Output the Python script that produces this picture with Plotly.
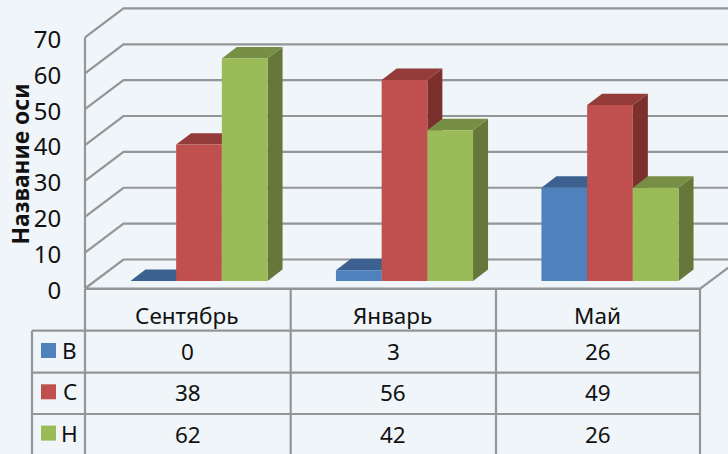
import plotly.graph_objects as go

categories = ["Сентябрь", "Январь", "Май"]
series_names = ["В", "С", "Н"]
values_b = [0, 3, 26]
values_c = [38, 56, 49]
values_n = [62, 42, 26]
y_ticks = [0, 10, 20, 30, 40, 50, 60, 70]
axis_title = "Название оси"

W, H = 728, 454
BG = "#EFF5F8"
GRID = "#939597"
FONT = "Noto Sans"
TEXT = "#111111"
front = ["#4F81BD", "#C0504D", "#9BBB59"]
top = ["#3C6190", "#933C3A", "#778F44"]
side = ["#335277", "#7C302E", "#65783A"]

# scales (pixels of the picture per data unit)
PX_CAT = 205.5
PX_VAL_WALL = 3.587
PX_VAL_BAR = 3.59
X0 = 199.0            # pixel of the first category centre
WALL_Y0, BAR_Y0 = 288.5, 281.0

def xc(px):
    return (px - X0) / PX_CAT

x_range = [xc(0), xc(W)]
wall_range = [-(H - WALL_Y0) / PX_VAL_WALL, WALL_Y0 / PX_VAL_WALL]
bar_range = [-(H - BAR_Y0) / PX_VAL_BAR, BAR_Y0 / PX_VAL_BAR]

fig = go.Figure()

# walls and floor
wall_l, wall_r = xc(85), xc(700.5)
depth_x, depth_v = 38.5 / PX_CAT, 29.0 / PX_VAL_WALL
wx, wy = [], []
for v in y_ticks:
    wx += [wall_l, wall_l + depth_x, wall_r + depth_x, None]
    wy += [v, v + depth_v, v + depth_v, None]
wx += [wall_l, wall_l, None, wall_l, wall_r, wall_r + depth_x]
wy += [y_ticks[0], y_ticks[-1], None, 0, 0, depth_v]
fig.add_trace(go.Scatter(x=wx, y=wy, mode="lines", yaxis="y",
                         line=dict(color=GRID, width=2.2), hoverinfo="skip"))

# depth faces of the bars, derived from the values
all_values = [values_b, values_c, values_n]
bar_w = 45.7 / PX_CAT
bdx, bdv = 15.0 / PX_CAT, 11.4 / PX_VAL_BAR
for s, vals in enumerate(all_values):
    off = (s - 1) * bar_w
    tx, ty, sx, sy = [], [], [], []
    for c, v in enumerate(vals):
        l, r = c + off - bar_w / 2, c + off + bar_w / 2
        tx += [l, r, r + bdx, l + bdx, l, None]
        ty += [v, v, v + bdv, v + bdv, v, None]
        sx += [r, r + bdx, r + bdx, r, r, None]
        sy += [0, bdv, v + bdv, v, 0, None]
    fig.add_trace(go.Scatter(x=sx, y=sy, yaxis="y2", mode="lines", fill="toself",
                             fillcolor=side[s], line=dict(width=0, color=side[s]), hoverinfo="skip"))
    fig.add_trace(go.Scatter(x=tx, y=ty, yaxis="y2", mode="lines", fill="toself",
                             fillcolor=top[s], line=dict(width=0, color=top[s]), hoverinfo="skip"))

# front faces
for s, vals in enumerate(all_values):
    fig.add_trace(go.Bar(x=[0, 1, 2], y=vals, name=series_names[s], yaxis="y3",
                         marker=dict(color=front[s], line=dict(width=0)), hoverinfo="skip"))

# data table
col_x = [85, 290.7, 496, 700]
row_y = [289, 330.7, 372.7, 414, 456]
shapes = []
def seg(x0, y0, x1, y1):
    shapes.append(dict(type="line", xref="x", yref="paper",
                       x0=xc(x0), x1=xc(x1), y0=1 - y0 / H, y1=1 - y1 / H,
                       line=dict(color=GRID, width=2.2)))
seg(32, row_y[1], 32, row_y[-1])
for cx in col_x:
    seg(cx, row_y[0], cx, row_y[-1])
for i, ry in enumerate(row_y[:-1]):
    seg(85 if i == 0 else 32, ry, 700, ry)

ann = []
def label(text, px_x, px_y):
    ann.append(dict(text=text, x=xc(px_x), y=1 - px_y / H, xref="x", yref="paper",
                    showarrow=False, font=dict(family=FONT, size=22.5, color=TEXT),
                    xanchor="center", yanchor="middle"))
for c, name in enumerate(categories):
    cx = (col_x[c] + col_x[c + 1]) / 2
    label(name, cx - 1, 315)
    for s, vals in enumerate(all_values):
        label(str(vals[c]), cx, 351.5 + s * 41.3)
for s, name in enumerate(series_names):
    ry = 350.5 + s * 41.3
    label(name, 69.5, ry)
    shapes.append(dict(type="rect", xref="x", yref="paper", x0=xc(41), x1=xc(56),
                       y0=1 - (ry - 7.5) / H, y1=1 - (ry + 7.5) / H,
                       fillcolor=front[s], line=dict(width=0)))

ann.append(dict(text=f"<b>{axis_title}</b>", x=xc(20.5), y=1 - 164 / H, xref="x", yref="paper",
                textangle=-90, showarrow=False, font=dict(family=FONT, size=22.8, color=TEXT),
                xanchor="center", yanchor="middle"))

fig.update_layout(
    width=W, height=H, margin=dict(l=0, r=0, t=0, b=0),
    paper_bgcolor=BG, plot_bgcolor=BG, showlegend=False,
    barmode="group", bargap=1 - 3 * bar_w, bargroupgap=0,
    shapes=shapes, annotations=ann,
    xaxis=dict(range=x_range, visible=False, fixedrange=True),
    yaxis=dict(range=wall_range, anchor="free", position=85 / W, tickvals=y_ticks,
               showgrid=False, zeroline=False, showline=False, ticks="outside",
               ticklen=19, tickcolor="rgba(0,0,0,0)", ticklabelshift=2,
               tickfont=dict(family=FONT, size=24, color=TEXT), fixedrange=True),
    yaxis2=dict(range=bar_range, overlaying="y", visible=False, fixedrange=True),
    yaxis3=dict(range=bar_range, overlaying="y", visible=False, fixedrange=True),
)
fig.write_html("out.html", config=dict(displayModeBar=False),
               post_script="document.documentElement.style.overflow='hidden';document.body.style.margin='0';document.body.style.background='" + BG + "';")
